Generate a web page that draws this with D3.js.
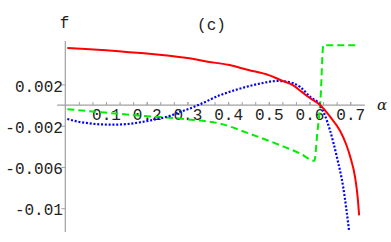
<!DOCTYPE html>
<html><head><meta charset="utf-8">
<script src="https://cdn.jsdelivr.net/npm/d3@7"></script>
<style>
html,body{margin:0;padding:0;background:#fff;}
svg{display:block;}
</style></head>
<body>
<svg id="c" width="391" height="242"></svg>
<script>
// ---- data ----
const alphaRed = [0.005,0.05,0.1,0.15,0.2,0.25,0.3,0.35,0.4,0.45,0.5,0.53,0.56,0.58,0.6,0.626,0.65,0.675,0.69,0.7,0.712,0.718,0.722];
const fRed     = [0.00553,0.00543,0.0053,0.00515,0.005,0.0048,0.00455,0.0042,0.0039,0.0034,0.0029,0.0024,0.0019,0.0013,0.0007,0,-0.0011,-0.0025,-0.0038,-0.005,-0.007,-0.0088,-0.0107];

const alphaBlue = [0.005,0.03,0.06,0.09,0.12,0.15,0.19,0.22,0.257,0.28,0.306,0.33,0.38,0.43,0.478,0.52,0.545,0.577,0.602,0.626,0.65,0.667,0.683,0.697];
const fBlue     = [-0.00135,-0.0016,-0.00178,-0.00188,-0.0019,-0.00185,-0.00163,-0.0014,-0.00105,-0.0007,-0.00034,0.00005,0.00095,0.0016,0.00208,0.00233,0.00226,0.00175,0.00078,0,-0.0024,-0.005,-0.008,-0.0121];

const alphaGreen = [0.005,0.08,0.19,0.295,0.38,0.454,0.528,0.577,0.612,0.619,0.627,0.634,0.72];
const fGreen     = [-0.0004,-0.00067,-0.00105,-0.00137,-0.0018,-0.0028,-0.0039,-0.0047,-0.0054,-0.0028,0.0005,0.0058,0.0058];

const xTickValues = [0.1,0.2,0.3,0.4,0.5,0.6,0.7];
const xTickLabels = ["0.1","0.2","0.3","0.4","0.5","0.6","0.7"];
const yTickValues = [0.002,-0.002,-0.006,-0.01];
const yTickLabels = ["0.002","-0.002","-0.006","-0.01"];

// ---- drawing ----
const svg = d3.select("#c");
const x = d3.scaleLinear().domain([0,0.7]).range([65.3,350.2]);
const y = d3.scaleLinear().domain([0.002,-0.01]).range([84.4,208.2]);
const axisColor = "#a0a0a0";
const font = "'Liberation Mono', 'DejaVu Sans Mono', monospace";

// axis lines
svg.append("line").attr("x1",x(-0.02)).attr("x2",x(0.736)).attr("y1",y(0)).attr("y2",y(0))
  .attr("stroke",axisColor).attr("stroke-width",1.2);
svg.append("line").attr("x1",x(0)).attr("x2",x(0)).attr("y1",y(0.0062)).attr("y2",y(-0.0123))
  .attr("stroke",axisColor).attr("stroke-width",1.2);

// minor x ticks
const minor = d3.range(1,22).map(i=>i*0.1/3);
svg.append("g").attr("transform",`translate(0,${y(0)})`)
  .call(d3.axisBottom(x).tickValues(minor).tickFormat("").tickSizeInner(-3).tickSizeOuter(0))
  .call(g=>g.select(".domain").remove())
  .call(g=>g.selectAll("line").attr("stroke",axisColor));

// major x ticks + labels
const gx = svg.append("g").attr("transform",`translate(0,${y(0)})`)
  .call(d3.axisBottom(x).tickValues(xTickValues).tickFormat((d,i)=>xTickLabels[i]).tickSizeInner(-3).tickSizeOuter(0));
gx.select(".domain").remove();
gx.selectAll("line").attr("stroke",axisColor);
gx.selectAll("text").attr("y",0).attr("dy",0).attr("transform","translate(0,15.2)")
  .attr("font-family",font).attr("font-size",16).attr("fill","#222");

// y ticks + labels
const gy = svg.append("g").attr("transform",`translate(${x(0)},0)`)
  .call(d3.axisLeft(y).tickValues(yTickValues).tickFormat((d,i)=>yTickLabels[i]).tickSizeInner(4).tickSizeOuter(0));
gy.select(".domain").remove();
gy.selectAll("line").attr("stroke",axisColor);
gy.selectAll("text").attr("x",-2.4).attr("dy",0).attr("y",6.6)
  .attr("font-family",font).attr("font-size",16).attr("fill","#222");

// clip
svg.append("clipPath").attr("id","clip").append("rect")
  .attr("x",x(-0.02)).attr("y",y(0.0062)).attr("width",x(0.74)-x(-0.02)).attr("height",y(-0.0123)-y(0.0062));

const line = d3.line().x(d=>x(d[0])).y(d=>y(d[1])).curve(d3.curveMonotoneX);
const plot = svg.append("g").attr("clip-path","url(#clip)");

plot.append("path").datum(d3.zip(alphaGreen,fGreen)).attr("d",line.curve(d3.curveMonotoneX))
  .attr("fill","none").attr("stroke","#00ee00").attr("stroke-width",2).attr("stroke-dasharray","7,4");
plot.append("path").datum(d3.zip(alphaBlue,fBlue)).attr("d",line)
  .attr("fill","none").attr("stroke","#0000ff").attr("stroke-width",2.2).attr("stroke-dasharray","2,1.8");
plot.append("path").datum(d3.zip(alphaRed,fRed)).attr("d",line)
  .attr("fill","none").attr("stroke","#ff0000").attr("stroke-width",2);

// labels
svg.append("text").attr("x",64.5).attr("y",27.5).attr("text-anchor","middle")
  .attr("font-family",font).attr("font-size",16).attr("fill","#222").text("f");
svg.append("text").attr("x",211.5).attr("y",30).attr("text-anchor","middle")
  .attr("font-family",font).attr("font-size",16).attr("fill","#222").text("(c)");
svg.append("text").attr("x",377).attr("y",109.5)
  .attr("font-family","'DejaVu Serif', serif").attr("font-style","italic").attr("font-size",15).attr("fill","#222").text("α");
</script>
</body></html>
